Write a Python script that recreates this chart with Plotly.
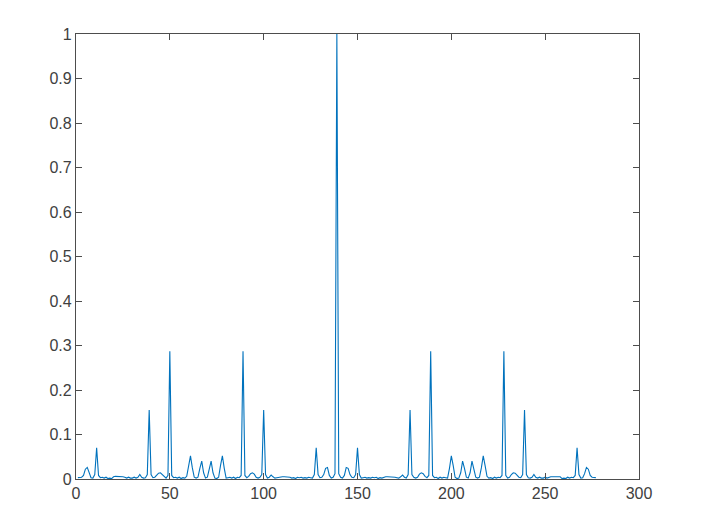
import plotly.graph_objects as go

# lag index (1..277) and normalised correlation values
left_vals = [
    0.003, 0.003, 0.004, 0.008, 0.022, 0.026, 0.012, 0.003, 0.002, 0.010,
    0.070, 0.008, 0.003, 0.004, 0.002, 0.004, 0.001, 0.002, 0.001, 0.005,
    0.006, 0.006, 0.005, 0.005, 0.005, 0.004, 0.002, 0.004, 0.002, 0.002,
    0.004, 0.002, 0.004, 0.010, 0.004, 0.002, 0.003, 0.010, 0.155, 0.010,
    0.003, 0.004, 0.008, 0.013, 0.014, 0.010, 0.004, 0.002, 0.008, 0.287,
    0.008, 0.003, 0.004, 0.002, 0.004, 0.001, 0.003, 0.002, 0.006, 0.030,
    0.052, 0.025, 0.004, 0.002, 0.004, 0.024, 0.040, 0.014, 0.002, 0.004,
    0.024, 0.040, 0.014, 0.002, 0.001, 0.004, 0.030, 0.052, 0.024, 0.002,
    0.003, 0.004, 0.002, 0.004, 0.001, 0.004, 0.003, 0.008, 0.287, 0.008,
    0.003, 0.006, 0.012, 0.014, 0.011, 0.004, 0.002, 0.004, 0.010, 0.155,
    0.010, 0.002, 0.004, 0.009, 0.005, 0.002, 0.003, 0.004, 0.004, 0.005,
    0.005, 0.005, 0.005, 0.004, 0.002, 0.003, 0.001, 0.004, 0.003, 0.004,
    0.002, 0.003, 0.002, 0.004, 0.003, 0.002, 0.010, 0.070, 0.010, 0.003,
    0.004, 0.010, 0.024, 0.026, 0.008, 0.002, 0.004, 0.012,
]
center_val = [1.000]
right_vals = [
    0.012, 0.004, 0.002, 0.008, 0.026, 0.024, 0.010, 0.004, 0.003, 0.010,
    0.070, 0.010, 0.002, 0.003, 0.004, 0.002, 0.003, 0.002, 0.004, 0.003,
    0.004, 0.001, 0.003, 0.002, 0.004, 0.005, 0.005, 0.005, 0.005, 0.004,
    0.004, 0.003, 0.002, 0.005, 0.009, 0.004, 0.002, 0.010, 0.155, 0.010,
    0.004, 0.002, 0.004, 0.011, 0.014, 0.012, 0.006, 0.003, 0.008, 0.287,
    0.008, 0.003, 0.004, 0.001, 0.004, 0.002, 0.004, 0.003, 0.002, 0.024,
    0.052, 0.030, 0.004, 0.001, 0.002, 0.014, 0.040, 0.024, 0.004, 0.002,
    0.014, 0.040, 0.024, 0.004, 0.002, 0.004, 0.025, 0.052, 0.030, 0.006,
    0.002, 0.003, 0.001, 0.004, 0.002, 0.004, 0.003, 0.008, 0.287, 0.008,
    0.002, 0.004, 0.010, 0.014, 0.013, 0.008, 0.004, 0.003, 0.010, 0.155,
    0.010, 0.003, 0.002, 0.004, 0.010, 0.004, 0.002, 0.004, 0.002, 0.002,
    0.004, 0.002, 0.004, 0.005, 0.005, 0.005, 0.006, 0.006, 0.005, 0.001,
    0.002, 0.001, 0.004, 0.002, 0.004, 0.003, 0.008, 0.070, 0.010, 0.002,
    0.003, 0.012, 0.026, 0.022, 0.008, 0.004, 0.003, 0.003,
]
y_vals = left_vals + center_val + right_vals
x_vals = list(range(1, len(y_vals) + 1))

x_ticks = [0, 50, 100, 150, 200, 250, 300]
y_ticks = [0, 0.1, 0.2, 0.3, 0.4, 0.5, 0.6, 0.7, 0.8, 0.9, 1]
y_tick_text = ["0", "0.1", "0.2", "0.3", "0.4", "0.5", "0.6", "0.7", "0.8", "0.9", "1"]

axis_color = "#4d4d4d"
font = dict(family="Liberation Sans, Arial, sans-serif", size=16, color="#404040")

fig = go.Figure(go.Scatter(
    x=x_vals, y=y_vals, mode="lines",
    line=dict(color="#0072BD", width=1.1),
    hoverinfo="x+y",
))

common = dict(
    showline=True, linecolor=axis_color, linewidth=1.2, mirror="ticks",
    ticks="inside", ticklen=6, tickwidth=1, tickcolor=axis_color,
    showgrid=False, zeroline=False, tickfont=font,
)
fig.update_xaxes(range=[0, 300], tickvals=x_ticks, **common)
fig.update_yaxes(range=[0, 1], tickvals=y_ticks, ticktext=y_tick_text, **common)

# page body adds an 8px offset, so the figure is 8px smaller on each side
fig.update_layout(
    width=708, height=524,
    margin=dict(l=68, r=77, t=26, b=53),
    paper_bgcolor="white", plot_bgcolor="white",
    showlegend=False,
)
fig.write_html("out.html")
